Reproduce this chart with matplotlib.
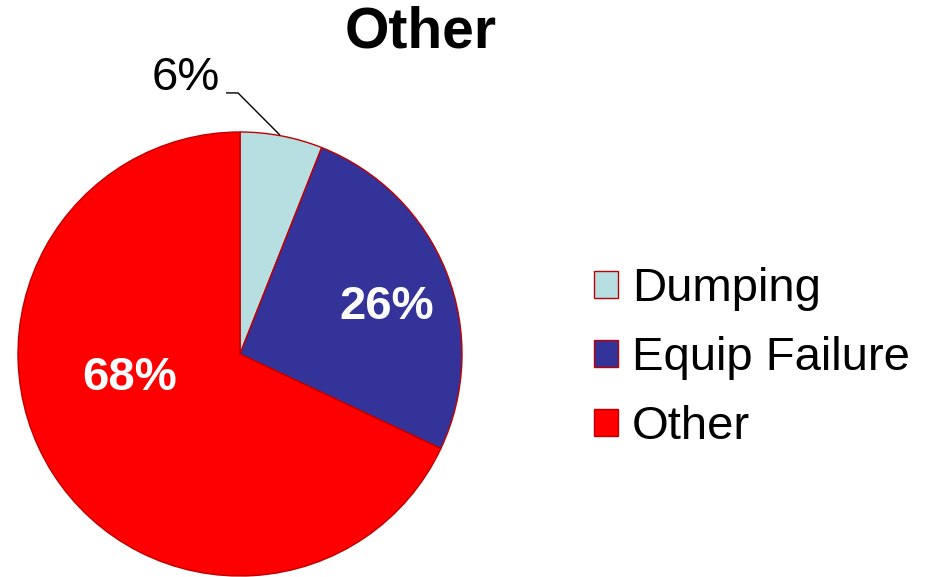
import matplotlib
matplotlib.use("Agg")
import matplotlib.pyplot as plt
from matplotlib.patches import Patch

categories = ["Dumping", "Equip Failure", "Other"]
values = [6, 26, 68]
colors = ["#B7DFE2", "#333399", "#FF0000"]
title = "Other"

plt.rcParams['font.family'] = ['Liberation Sans', 'DejaVu Sans']

W, H = 926, 577
fig = plt.figure(figsize=(W / 100, H / 100), dpi=100)
cx, cy, r = 240, 354, 222
ax = fig.add_axes([(cx - r) / W, (H - cy - r) / H, 2 * r / W, 2 * r / H])
wedges, _ = ax.pie(values, colors=colors, startangle=90, counterclock=False,
                   radius=1.0,
                   wedgeprops=dict(edgecolor="#C00000", linewidth=1.0))
ax.set_xlim(-1, 1)
ax.set_ylim(-1, 1)
ax.set_aspect('equal')
ax.axis('off')

labels = [f"{v}%" for v in values]
# 26% and 68% inside
ax.text(0.662, 0.212, labels[1], ha='center', va='center', color='white',
        fontsize=34, fontweight='bold')
ax.text(-0.495, -0.108, labels[2], ha='center', va='center', color='white',
        fontsize=34, fontweight='bold')
# 6% outside with leader line
ax.text(-0.09, 1.243, labels[0], ha='right', va='center', fontsize=34,
        color='black', clip_on=False)
ax.plot([-0.063, -0.009, 0.18], [1.176, 1.176, 0.986], color='black',
        lw=1.0, clip_on=False, solid_capstyle='butt')

fig.text(421 / W, 1 - 33 / H, title, ha='center', va='center',
         fontsize=41, fontweight='bold')

handles = [Patch(facecolor=c, edgecolor="#C00000", linewidth=1.0) for c in colors]
leg = fig.legend(handles, categories, loc='center left',
                 bbox_to_anchor=(594 / W, 1 - 358 / H), frameon=False,
                 fontsize=34, handlelength=0.5, handleheight=0.5,
                 handletextpad=0.3, labelspacing=0.53, borderpad=0,
                 borderaxespad=0)

fig.savefig("out.png", dpi=100)
